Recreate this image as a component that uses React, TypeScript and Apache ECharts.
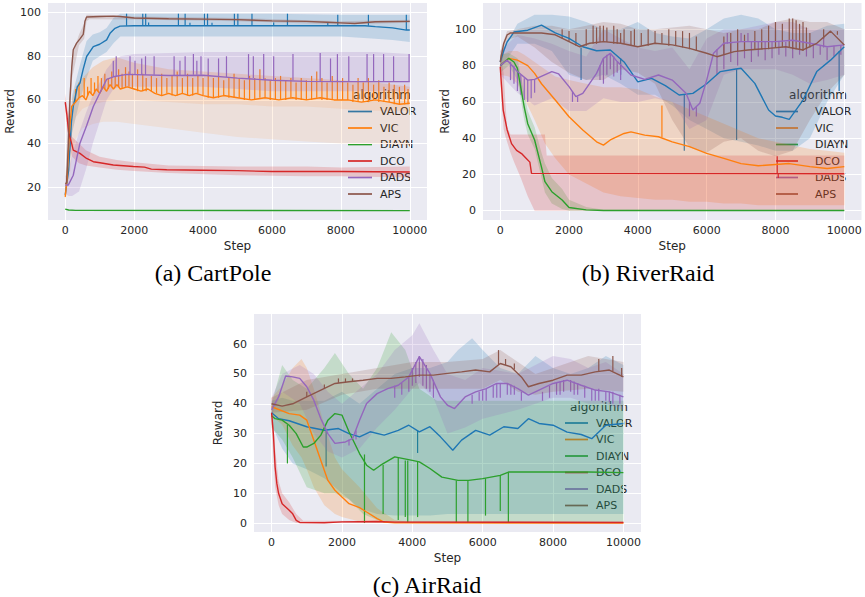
import React, { useEffect, useRef } from "react";
import * as echarts from "echarts";

const ALGOS = ["VALOR", "VIC", "DIAYN", "DCO", "DADS", "APS"];
const COLORS = ["#1f77b4", "#ff7f0e", "#2ca02c", "#d62728", "#9467bd", "#8c564b"];
const STEP_TICKS = [0, 2000, 4000, 6000, 8000, 10000];
const CP_TICKS = [20, 40, 60, 80, 100];
const RR_TICKS = [0, 20, 40, 60, 80, 100];
const AR_TICKS = [0, 10, 20, 30, 40, 50, 60];
const CAPTIONS = ["(a) CartPole", "(b) RiverRaid", "(c) AirRaid"];

// ---------------- CartPole ----------------
const cpValor = [[0,16.5],[100,28],[180,50],[233,57],[300,62],[350,66],[427,67.7],[520,74],[621,79.9],[815,84.4],[1000,85.5],[1202,87.5],[1300,90.5],[1445,92.8],[1590,93.8],[2000,94],[3000,94],[4000,94],[5000,94],[6000,94],[7000,94],[8000,94],[8700,94],[9000,93.6],[9500,93],[9900,92],[10000,92]];
const cpValorBand = [[0,14,19],[200,45,62],[427,60,76],[620,70,87],[800,78,90],[1000,80,91],[1200,82,93],[1400,86,97.5],[1600,89,99.5],[2000,89,99.5],[4000,89,99.5],[6000,89,99.5],[8000,89,99],[9000,88,99],[9500,87.5,99],[10000,86.5,99]];
const cpValorSpikes = [[1780,94,99.5],[2250,94,99.5],[2335,94,99.5],[2420,94,95.5],[3285,94,99.5],[3480,94,99.5],[3620,94,95.3],[4040,94,99.5],[4130,94,99.5],[4260,94,95.3],[4910,94,99.5],[5010,94,99.5],[5420,94,99.5],[6050,94,95.5],[6450,94,99.5],[7620,94,95.5],[7910,94,99],[8800,94,99],[9900,92,99]];

const cpVic = [[0,15.6],[60,25],[120,45],[184,57],[300,59],[400,61],[500,62],[600,60],[700,64],[800,62],[900,65],[1000,63],[1100,66],[1200,64],[1300,67],[1400,65],[1500,67],[1600,65],[1800,66],[2000,65],[2200,64],[2400,65],[2600,63],[2800,62],[3000,63],[3200,62],[3400,63],[3600,62],[3800,63],[4000,62],[4300,61],[4600,62],[5000,61],[5400,60],[5800,61],[6200,60],[6600,61],[7000,60],[7400,61],[7800,60],[8200,60],[8600,59],[9000,60],[9400,59],[9700,58],[10000,58.5]];
const cpVicBand = [[0,14,19],[100,25,40],[200,45,60],[300,52,66],[500,56,70],[800,58,75],[1100,59,78],[1500,60,79.5],[2000,60,77],[3000,59,74],[4000,58,73],[5000,58,72],[6000,57,71],[7000,57,70],[8000,56,69],[9000,55,68],[10000,55,66]];
const cpVicOuterBand = [[100,20,25],[200,35,45],[300,42,52],[500,47,56],[800,49,58],[1100,50,59],[1500,50,60],[2000,49,60],[3000,47,59],[4000,45,58],[5000,43,58],[6000,42,57],[7000,41,57],[8000,40,56],[9000,40,55],[10000,39,55]];
const cpVicSpikes = [[300,59,65],[400,61,68],[550,61,70],[650,62,66],[750,63,70],[850,63,68],[950,64,71],[1050,64,70],[1150,65,72],[1250,65,70],[1350,66,73],[1450,66,71],[1550,66,74],[1650,65,72],[1750,66,75],[1850,66,73],[1950,65,72],[2100,64,74],[2250,64,72],[2350,64,70],[2500,64,71],[2650,63,70],[2800,62,72],[2950,63,70],[3100,62,71],[3250,62,73],[3400,63,70],[3550,62,72],[3700,62,70],[3850,63,71],[4000,62,70],[4150,61,72],[4300,61,70],[4450,61,71],[4600,62,69],[4750,61,70],[4900,61,72],[5050,61,70],[5200,60,69],[5350,60,71],[5500,60,70],[5650,61,74],[5800,61,70],[5950,60,69],[6100,60,70],[6250,60,71],[6400,60,69],[6550,61,70],[6700,60,68],[6850,60,70],[7000,60,69],[7150,60,71],[7300,61,73],[7450,60,70],[7600,60,68],[7750,60,71],[7900,60,69],[8050,60,70],[8200,60,68],[8350,59,67],[8500,59,70],[8650,59,68],[8800,59,70],[8950,60,67],[9100,59,69],[9250,59,66],[9400,59,68],[9550,58,67],[9700,58,66],[9850,58,67],[9950,58,65]];

const cpDiayn = [[0,10],[100,9.6],[300,9.4],[10000,9.3]];

const cpDco = [[0,59],[50,53],[100,45],[184,40.2],[233,37],[427,35.5],[620,33.2],[815,31.7],[1008,31.2],[1396,30.2],[1977,29.5],[2300,29.2],[2500,28.3],[2946,28],[4000,27.8],[5000,27.6],[6000,27.2],[8000,27.2],[10000,27]];
const cpDcoBand = [[0,55,63],[100,40,52],[200,34,43],[400,31,40],[600,30,37],[1000,29,34],[1500,28,32.5],[2000,27.5,31.5],[3000,26.5,30],[5000,25.5,29.5],[7000,25,29.5],[8000,25,29],[10000,24.5,29.5]];

const cpDads = [[0,21],[87,21],[233,25.5],[330,33],[427,40.2],[620,48.2],[815,57],[1008,63.3],[1202,69.4],[1396,70.6],[1784,71.7],[3000,71.2],[4000,71.3],[5000,70],[6000,69],[7000,68.5],[8000,68.4],[10000,68.4]];
const cpDadsBand = [[0,17,25],[100,16,28],[200,16,35],[400,18,45],[600,28,54],[800,40,62],[1000,50,68],[1200,60,74],[1400,65,78],[1600,66,80],[2000,66,81],[3000,66,81.5],[4000,66,82],[5000,65,82],[6000,64,82],[7000,64,82],[8000,64,82],[9000,64,82],[10000,64,81]];
const cpDadsSpikes = [[1395,70.5,78],[1480,71,80],[1880,71.5,80],[2025,71.5,78],[2220,71.5,79],[2330,71.5,80],[2580,71.5,80],[3160,71,80],[3330,71,78],[3480,71,80],[3720,71.5,81],[3820,71.5,78],[3940,71.5,80],[4150,71.5,79],[4450,71,79],[4680,70.5,80],[5320,70,81],[5460,70,80],[5760,69.5,81],[6050,69,80],[6610,69,81],[7400,68.5,81.5],[7700,68.5,79],[7900,68.4,81],[8230,68.4,80],[8760,68.4,81],[8950,68.4,81],[9240,68.4,81],[9530,68.4,80],[9980,68.4,81]];

const cpAps = [[0,21.7],[40,22],[90,40],[136,60],[190,75],[233,83],[330,86],[427,88],[523,90],[572,96],[620,98],[1000,98.2],[1400,98.4],[1600,98.2],[2000,97.5],[3000,97.2],[4000,97],[5000,96.8],[6000,96.2],[7000,96],[7600,95.6],[8000,95.3],[8400,95],[9000,95.8],[10000,96]];
const cpApsBand = [[0,20,23],[100,45,58],[200,70,80],[400,85,90],[550,88,95],[620,96,99],[700,97,99],[2000,96.8,98.2],[5000,96,97.5],[8000,94.5,96],[10000,95.3,96.7]];

// ---------------- RiverRaid ----------------
const rrValor = [[0,82],[100,88],[200,93],[400,98.5],[800,99.5],[1200,102.3],[1600,98],[2000,95],[2400,90.4],[2800,88.2],[3200,88.6],[3600,82],[4000,71],[4400,73],[4800,69],[5200,63.8],[5600,64.7],[6000,70],[6400,76.7],[6800,78],[7000,78.5],[7400,70.2],[7800,55.5],[8000,52.2],[8200,51.5],[8400,50.4],[8800,61],[9200,76.7],[9600,83],[10000,90.4]];
const rrValorBand = [[0,78,86],[500,92,103],[1000,92,108],[1500,88,108],[2000,75,107],[2500,72,104],[3000,75,100],[3500,70,100],[4000,64,104],[4500,64,98],[5000,58,96],[5500,50,95],[6000,45,100],[6500,40,106],[7000,38,108],[7500,36,106],[8000,33,100],[8500,33,98],[9000,40,98],[9500,60,102],[10000,75,103]];
const rrValorSpikes = [[2350,90,72],[3500,84,75],[5350,64,33],[6870,78,39],[9850,88,66]];

const rrVic = [[0,80],[250,84],[500,83],[800,80],[1000,75.7],[1200,70],[1600,61],[2000,51.8],[2400,44.5],[2800,38],[3000,36.2],[3200,39],[3600,42.6],[3800,43.5],[4200,41.7],[4600,40.8],[5000,38],[5500,35.3],[6000,31.6],[6500,28.9],[7000,26],[7500,24.8],[8000,25.5],[8400,26],[9000,24.3],[9500,23.3],[10000,24.3]];
const rrVicBand = [[0,75,85],[250,74,88],[500,70,88],[700,62,86],[1000,50,82],[1300,37,78],[1600,29,74],[2000,20,72],[2500,15,70],[3000,10,68],[3500,8,68],[4000,7,67],[4500,6,63],[5000,6,60],[5500,5,56],[6000,5,52],[6500,4,48],[7000,4,44],[7500,3,40],[8000,3,38],[8500,3,36],[9000,3,34],[9500,3,33],[10000,3,32]];
const rrVicSpikes = [[4700,40.5,58]];

const rrDiayn = [[0,80],[250,84],[400,82],[500,78.5],[700,57],[800,48],[1000,39],[1200,24],[1300,16],[1500,10.5],[1800,5.9],[2000,1.8],[2500,0.5],[3000,0.1],[10000,0.1]];
const rrDiaynBand = [[0,76,86],[250,80,87],[500,72,84],[700,50,65],[800,42,55],[1000,34,46],[1200,18,32],[1300,10,26],[1500,4,18],[1800,1,12],[2000,0,6],[2500,0,2],[3000,0,0.5],[10000,0,0.3]];

const rrDco = [[0,79.4],[87,55.5],[203,44.5],[329,37],[475,33.3],[620,31.5],[765,28.7],[862,26.8],[910,20.6],[10000,20.4]];
const rrDcoBand = [[0,70,86],[100,45,76],[150,41,60],[200,38,46],[300,32,42],[400,27,42],[600,18,42],[800,8,42],[1000,0,42],[1300,0,42],[1350,0,30.5],[10000,0,30.5]];
const rrDcoSpikes = [[8050,20.4,30],[8080,20.4,18]];

const rrDads = [[0,80],[200,83],[500,76.7],[800,72],[1000,72.4],[1500,76.7],[1700,75.4],[2000,68.4],[2200,62.9],[2400,64.7],[2800,75.7],[3000,84],[3200,86.8],[3400,82.2],[3800,74.8],[4200,72.4],[4600,74.8],[5000,72],[5400,64.7],[5600,55.5],[5800,59.2],[6000,72],[6200,86.8],[6500,92.3],[7000,93.2],[8000,93.2],[8500,94],[9000,92.3],[9500,90.4],[10000,91.4]];
const rrDadsBand = [[0,75,88],[500,65,97],[1000,58,95],[1500,62,92],[2000,55,88],[2500,55,85],[3000,62,100],[3500,60,95],[4000,60,90],[4500,62,88],[5000,60,90],[5500,45,78],[6000,50,95],[6500,75,100],[7000,78,100],[8000,78,104],[8500,75,104],[9000,70,100],[9500,72,100],[10000,75,100]];
const rrDadsSpikes = [[300,82,72],[400,80,70],[500,77,66],[600,75,64],[700,73,61],[800,72,60],[900,72,62],[1000,72,65],[2100,66,60],[2250,63,60],[2900,80,72],[3000,84,70],[3100,86,75],[3200,87,78],[3300,85,74],[3400,82,76],[3500,80,72],[5500,60,52],[5700,57,52],[6300,89,75],[6500,92,78],[6700,93,82],[6900,93,80],[7100,93,84],[7300,93,82],[7500,93,85],[7700,93,83],[7900,93,84],[8100,93,86],[8300,93,85],[8500,94,84],[8700,94,86],[8900,93,85],[9100,92,84],[9300,91,86],[9500,90,83],[9700,91,85],[9900,91,86],[6600,92,98],[7000,93,98],[7200,93,98],[8000,93,99],[9400,90,96]];

const rrAps = [[0,82],[100,92],[200,96.9],[300,98],[1200,98],[1600,97],[2000,93.2],[2300,90.4],[2600,92.3],[3000,93.2],[3500,92.3],[4000,90.4],[4500,92.3],[5000,91.4],[5500,89.5],[6000,86.8],[6300,84.9],[6800,87.7],[7200,88.6],[7800,89.5],[8300,90.4],[8800,88.6],[9200,92.3],[9600,99],[10000,91.4]];
const rrApsBand = [[0,78,88],[200,94,99],[500,96,100],[1000,90,102],[1500,82,102],[2000,76,100],[2500,72,102],[3000,72,104],[3500,78,103],[4000,76,100],[4500,70,100],[5000,50,101],[5500,35,102],[6000,32,100],[6500,38,98],[7000,40,100],[7500,33,100],[8000,30,104],[8500,33,106],[9000,50,104],[9500,65,104],[10000,75,100]];
const rrApsSpikes = [[1800,95,100],[2000,93,99],[2200,91,98],[2500,91,100],[2700,92,102],[2800,92,101],[2900,93,102],[3000,93,102],[3100,93,101],[3300,92,102],[3400,92,100],[3500,92,98],[3600,92,100],[3800,91,99],[3900,91,100],[4100,91,98],[4300,91,100],[4500,92,99],[4700,92,98],[4900,91,100],[5100,91,99],[5300,90,99],[5500,89,98],[5700,88,96],[6500,86,96],[6700,87,98],[6900,88,100],[7100,88,97],[7400,89,99],[7600,89,100],[7800,89,102],[8000,90,104],[8200,90,103],[8400,90,106],[8500,89,106],[8600,89,105],[8700,89,103],[8800,88,104],[8900,89,101],[9000,90,98],[9400,95,100],[9800,97,99]];

// ---------------- AirRaid ----------------
const arValor = [[0,37],[200,35],[500,34.3],[1000,32.3],[1500,31.1],[1900,31.7],[2200,30],[2500,28.9],[2800,30.6],[3200,29.5],[3600,31.1],[3900,32.8],[4200,30.6],[4500,32.3],[4800,28.9],[5150,24.4],[5400,27.8],[5800,31.1],[6200,29.5],[6600,32.3],[7000,31.7],[7300,35],[7600,33.4],[8000,32.8],[8400,30.5],[8800,29.7],[9100,28.3],[9500,32.8],[10000,33.4]];
const arValorBand = [[0,33,41],[300,25,42],[600,20,41],[1000,18,41],[1500,15,41],[2000,10,44],[2500,5,40],[3000,3,45],[3500,2.5,50],[4000,2.5,52],[4500,2.5,52],[5000,3,54],[5300,3,58],[5700,3,62],[6000,3,58],[6500,3,52],[7000,3,50],[7500,3,56],[8000,3,52],[8500,3,50],[9000,3,52],[9500,3,56],[10000,3,53]];
const arValorSpikes = [[1550,31,19],[4150,31,23.5]];

const arVic = [[0,39],[500,36.7],[800,36.2],[1000,34.5],[1200,27.8],[1400,21],[1600,14.3],[1800,11],[2000,8.7],[2200,6.5],[2500,5.2],[2700,3.7],[3000,1.5],[3200,0.3],[3500,0.05],[10000,0]];
const arVicBand = [[0,36,42],[300,33,46],[600,26,52],[850,22,55],[1000,18,52],[1200,12,45],[1500,6,33],[1800,3,22],[2000,2,18],[2500,0.5,12],[3000,0,5],[3500,0,1],[4000,0,0.3],[10000,0,0.2]];

const arDiayn = [[0,36],[100,35],[300,34.5],[500,32.8],[700,30],[900,25.5],[1000,25.5],[1200,26.7],[1400,29.5],[1600,34.5],[1800,36.7],[2000,36.2],[2200,30.6],[2500,23.3],[2700,19.4],[2900,17.7],[3100,19.4],[3500,22.2],[4000,21],[4200,20.5],[4500,18.3],[4840,15.4],[5300,14.3],[5600,14.3],[6000,14.9],[6500,16],[6735,17.1],[8000,17.1],[9000,17.1],[10000,16.9]];
const arDiaynBand = [[0,32,40],[300,28,53],[600,22,48],[1000,12,45],[1500,10,52],[1800,10,57],[2200,8,50],[2600,3,45],[3000,1,52],[3400,0.5,64],[3800,0.3,58],[4200,0.2,45],[4700,0.2,41],[5500,0.2,41],[7000,0.2,41],[8500,0.2,41],[10000,0.2,41]];
const arDiaynSpikes = [[450,33,20],[2640,23,0],[3170,19.5,3],[3600,22,1],[3800,21,2],[3870,21,0],[4150,20.5,2],[5250,14.3,0],[5580,14.3,0],[6080,15,2.5],[6500,16,4],[6730,17,0]];

const arDco = [[0,37],[50,30],[100,18.8],[150,13.2],[200,9.9],[300,6.5],[400,5.4],[500,4.3],[600,3.1],[700,0.9],[800,0.2],[1500,0.1],[2000,0.4],[3000,0.5],[3500,0.3],[10000,0.2]];
const arDcoBand = [[0,33,41],[100,12,25],[200,6,14],[300,3,10],[500,1,7],[700,0,3],[900,0,0.8],[10000,0,0.5]];

const arDads = [[0,38],[200,42.3],[400,49.3],[600,49],[800,48.5],[1000,45.7],[1200,41.2],[1400,35],[1600,30],[1800,26.7],[2100,27.2],[2300,28.3],[2500,34.5],[2700,40.1],[3000,43.4],[3300,45.1],[3600,46.2],[3900,49],[4200,55.8],[4500,50.2],[4800,42.3],[5000,39.5],[5200,38.4],[5500,42.3],[5800,44],[6100,45.1],[6400,46.8],[6700,46.8],[7000,45.1],[7300,42.9],[7600,44.6],[8000,46.8],[8400,47.9],[8800,46.2],[9200,44.6],[9600,44],[10000,42.3]];
const arDadsBand = [[0,36,42],[300,44,50],[800,40,53],[1200,30,50],[1600,24,44],[2000,22,40],[2500,25,45],[3000,32,50],[3500,38,58],[4000,45,63],[4200,47,67],[4600,42,58],[5000,30,50],[5500,32,48],[6000,35,52],[7000,38,50],[8000,42,56],[8500,42,55],[9000,40,52],[9500,40,54],[10000,38,50]];
const arDadsSpikes = [[2200,28,26],[2400,31,28],[3500,46,42],[3700,47,43],[3900,49,44],[4000,52,46],[4100,54,47],[4200,56,49],[4300,55,46],[4400,53,45],[4500,50,44],[4600,48,42],[5700,43,40],[5900,44,41],[6000,44.5,41],[6100,45,41],[6300,46,42],[6400,46.8,42],[6500,47,42],[6700,47,43],[6800,46.5,43],[6900,46,43],[7100,44,41],[7700,44,41],[7900,46,42],[8100,47,43],[8200,47.5,43],[8300,48,44],[8500,48,44],[8600,47.5,43],[8700,47,43],[8900,46,42],[9100,45,41],[9200,44.6,41],[9300,45,41],[9500,44,41],[9600,44,40.5],[9700,44,40],[9900,43,40]];

const arAps = [[0,40],[300,39.2],[600,40],[1000,42.3],[1400,44.6],[1800,46.8],[2200,47.4],[2600,47.9],[3000,48.5],[3400,48.5],[3800,49],[4200,49.6],[4600,49.6],[5000,50.2],[5400,50.7],[5800,51.3],[6200,50.7],[6500,53.5],[6800,52.4],[7100,49],[7300,45.7],[7600,46.8],[8000,47.9],[8400,49.6],[8800,49.6],[9200,50.7],[9600,51.3],[10000,49]];
const arApsBand = [[0,37,42],[1000,38,48],[2000,43,50],[3000,45,52],[4000,45,54],[5000,45,54],[6000,45,55],[6500,48,58],[7000,44,54],[7500,43,50],[8000,44,52],[9000,45,56],[10000,44,54]];
const arApsSpikes = [[1000,42.3,44],[1500,45,46.5],[1900,47,48.5],[2100,47.2,48.5],[2300,47.4,48.5],[6450,53,58],[6650,53,55],[6900,51.5,53.5],[9300,50.8,55],[9700,51,56],[9950,49,52]];

const FONT = "'DejaVu Sans', sans-serif";
const TEXT = "#262626";

function rgba(hex: string, a: number) {
  const n = parseInt(hex.slice(1), 16);
  return `rgba(${(n >> 16) & 255},${(n >> 8) & 255},${n & 255},${a})`;
}

function bandSeries(gi: number, data: number[][], color: string, alpha: number) {
  return {
    type: "custom", xAxisIndex: gi, yAxisIndex: gi, silent: true, clip: true,
    data, encode: { x: 0, y: [1, 2] },
    renderItem: (params: any, api: any) => {
      if (params.dataIndex !== 0) return null;
      const up = data.map((d) => api.coord([d[0], d[2]]));
      const lo = data.slice().reverse().map((d) => api.coord([d[0], d[1]]));
      return { type: "polygon", shape: { points: up.concat(lo) }, style: { fill: rgba(color, alpha) } };
    },
  };
}

function spikeSeries(gi: number, data: number[][], color: string) {
  return {
    type: "custom", xAxisIndex: gi, yAxisIndex: gi, silent: true, clip: true,
    data, encode: { x: 0, y: [1, 2] },
    renderItem: (params: any, api: any) => {
      const a = api.coord([api.value(0), api.value(1)]);
      const b = api.coord([api.value(0), api.value(2)]);
      return { type: "line", shape: { x1: a[0], y1: a[1], x2: b[0], y2: b[1] }, style: { stroke: color, lineWidth: 1.2 } };
    },
  };
}

function lineSeries(gi: number, name: string, data: number[][], color: string) {
  return {
    type: "line", name, xAxisIndex: gi, yAxisIndex: gi, data, showSymbol: false, symbol: "none",
    lineStyle: { color, width: 1.4 }, itemStyle: { color }, silent: true,
  };
}

const ENVS = [
  { lines: [cpValor, cpVic, cpDiayn, cpDco, cpDads, cpAps], bands: [cpValorBand, cpVicBand, null, cpDcoBand, cpDadsBand, cpApsBand], outer: [null, cpVicOuterBand, null, null, null, null], spikes: [cpValorSpikes, cpVicSpikes, null, null, cpDadsSpikes, null] },
  { lines: [rrValor, rrVic, rrDiayn, rrDco, rrDads, rrAps], bands: [rrValorBand, rrVicBand, rrDiaynBand, rrDcoBand, rrDadsBand, rrApsBand], outer: [null, null, null, null, null, null], spikes: [rrValorSpikes, rrVicSpikes, null, rrDcoSpikes, rrDadsSpikes, rrApsSpikes] },
  { lines: [arValor, arVic, arDiayn, arDco, arDads, arAps], bands: [arValorBand, arVicBand, arDiaynBand, arDcoBand, arDadsBand, arApsBand], outer: [null, null, null, null, null, null], spikes: [arValorSpikes, null, arDiaynSpikes, null, arDadsSpikes, arApsSpikes] },
];

const GRIDS = [
  { left: 48, top: 3, width: 379, height: 217 },
  { left: 483, top: 3, width: 378.5, height: 217 },
  { left: 254, top: 314, width: 387, height: 218 },
];
const Y_RANGES = [[5.0, 104.4], [-5.1, 114.5], [-3.0, 70.1]];
const Y_TICKS = [CP_TICKS, RR_TICKS, AR_TICKS];
const LEGENDS = [
  { titleX: 382, lineX1: 348, lineX2: 372, labelX: 380, y0: 95 },
  { titleX: 818, lineX1: 775, lineX2: 798, labelX: 815, y0: 95 },
  { titleX: 599, lineX1: 565, lineX2: 588, labelX: 596, y0: 406.5 },
];
const CAPTION_POS = [[213, 273], [648, 273], [427, 585]];

function buildOption() {
  const series: any[] = [];
  ENVS.forEach((env, gi) => {
    ALGOS.forEach((name, i) => {
      if (env.outer[i]) series.push(bandSeries(gi, env.outer[i] as number[][], COLORS[i], 0.1));
      if (env.bands[i]) series.push(bandSeries(gi, env.bands[i] as number[][], COLORS[i], 0.2));
      series.push(lineSeries(gi, name, env.lines[i], COLORS[i]));
      if (env.spikes[i]) series.push(spikeSeries(gi, env.spikes[i] as number[][], COLORS[i]));
    });
  });

  const xAxis = GRIDS.map((_, gi) => ({
    type: "value", gridIndex: gi, min: -500, max: 10500,
    axisLine: { show: false }, axisTick: { show: false, customValues: STEP_TICKS },
    axisLabel: { customValues: STEP_TICKS, formatter: (v: number) => String(v), color: TEXT, fontSize: 11, fontFamily: FONT, margin: 5 },
    splitLine: { show: true, lineStyle: { color: "#ffffff", width: 1 } },
    name: "Step", nameLocation: "middle", nameGap: 20,
    nameTextStyle: { color: TEXT, fontSize: 12, fontFamily: FONT },
  }));
  const yAxis = GRIDS.map((_, gi) => ({
    type: "value", gridIndex: gi, min: Y_RANGES[gi][0], max: Y_RANGES[gi][1],
    axisLine: { show: false }, axisTick: { show: false, customValues: Y_TICKS[gi] },
    axisLabel: { customValues: Y_TICKS[gi], formatter: (v: number) => String(v), color: TEXT, fontSize: 11, fontFamily: FONT, margin: 7 },
    splitLine: { show: true, lineStyle: { color: "#ffffff", width: 1 } },
    name: "Reward", nameLocation: "middle", nameGap: 30,
    nameTextStyle: { color: TEXT, fontSize: 12, fontFamily: FONT },
  }));

  const graphic: any[] = [];
  LEGENDS.forEach((lg) => {
    graphic.push({
      type: "text", x: lg.titleX, y: lg.y0, silent: true,
      style: { text: "algorithm", fill: TEXT, fontSize: 12, fontFamily: FONT, align: "center", verticalAlign: "middle" },
    });
    ALGOS.forEach((name, i) => {
      const y = lg.y0 + 16.5 * (i + 1);
      graphic.push({ type: "line", silent: true, shape: { x1: lg.lineX1, y1: y, x2: lg.lineX2, y2: y }, style: { stroke: COLORS[i], lineWidth: 1.7 } });
      graphic.push({
        type: "text", x: lg.labelX, y, silent: true,
        style: { text: name, fill: TEXT, fontSize: 11, fontFamily: FONT, align: "left", verticalAlign: "middle" },
      });
    });
  });
  CAPTIONS.forEach((c, i) => {
    graphic.push({
      type: "text", x: CAPTION_POS[i][0], y: CAPTION_POS[i][1], silent: true,
      style: { text: c, fill: "#000", fontSize: 24, fontFamily: "'Liberation Serif', 'Times New Roman', serif", align: "center", verticalAlign: "middle" },
    });
  });

  return {
    animation: false,
    backgroundColor: "#ffffff",
    grid: GRIDS.map((g) => ({ ...g, show: true, backgroundColor: "#eaeaf2", borderWidth: 0, containLabel: false })),
    xAxis, yAxis, series, graphic,
  };
}

export default function App() {
  const ref = useRef<HTMLDivElement>(null);
  useEffect(() => {
    if (!ref.current) return;
    const chart = echarts.init(ref.current, null, { renderer: "svg" });
    chart.setOption(buildOption() as any);
    return () => chart.dispose();
  }, []);
  return (
    <div
      ref={ref}
      style={{ position: "fixed", left: 0, top: 0, width: 865, height: 597, background: "#fff" }}
    />
  );
}
